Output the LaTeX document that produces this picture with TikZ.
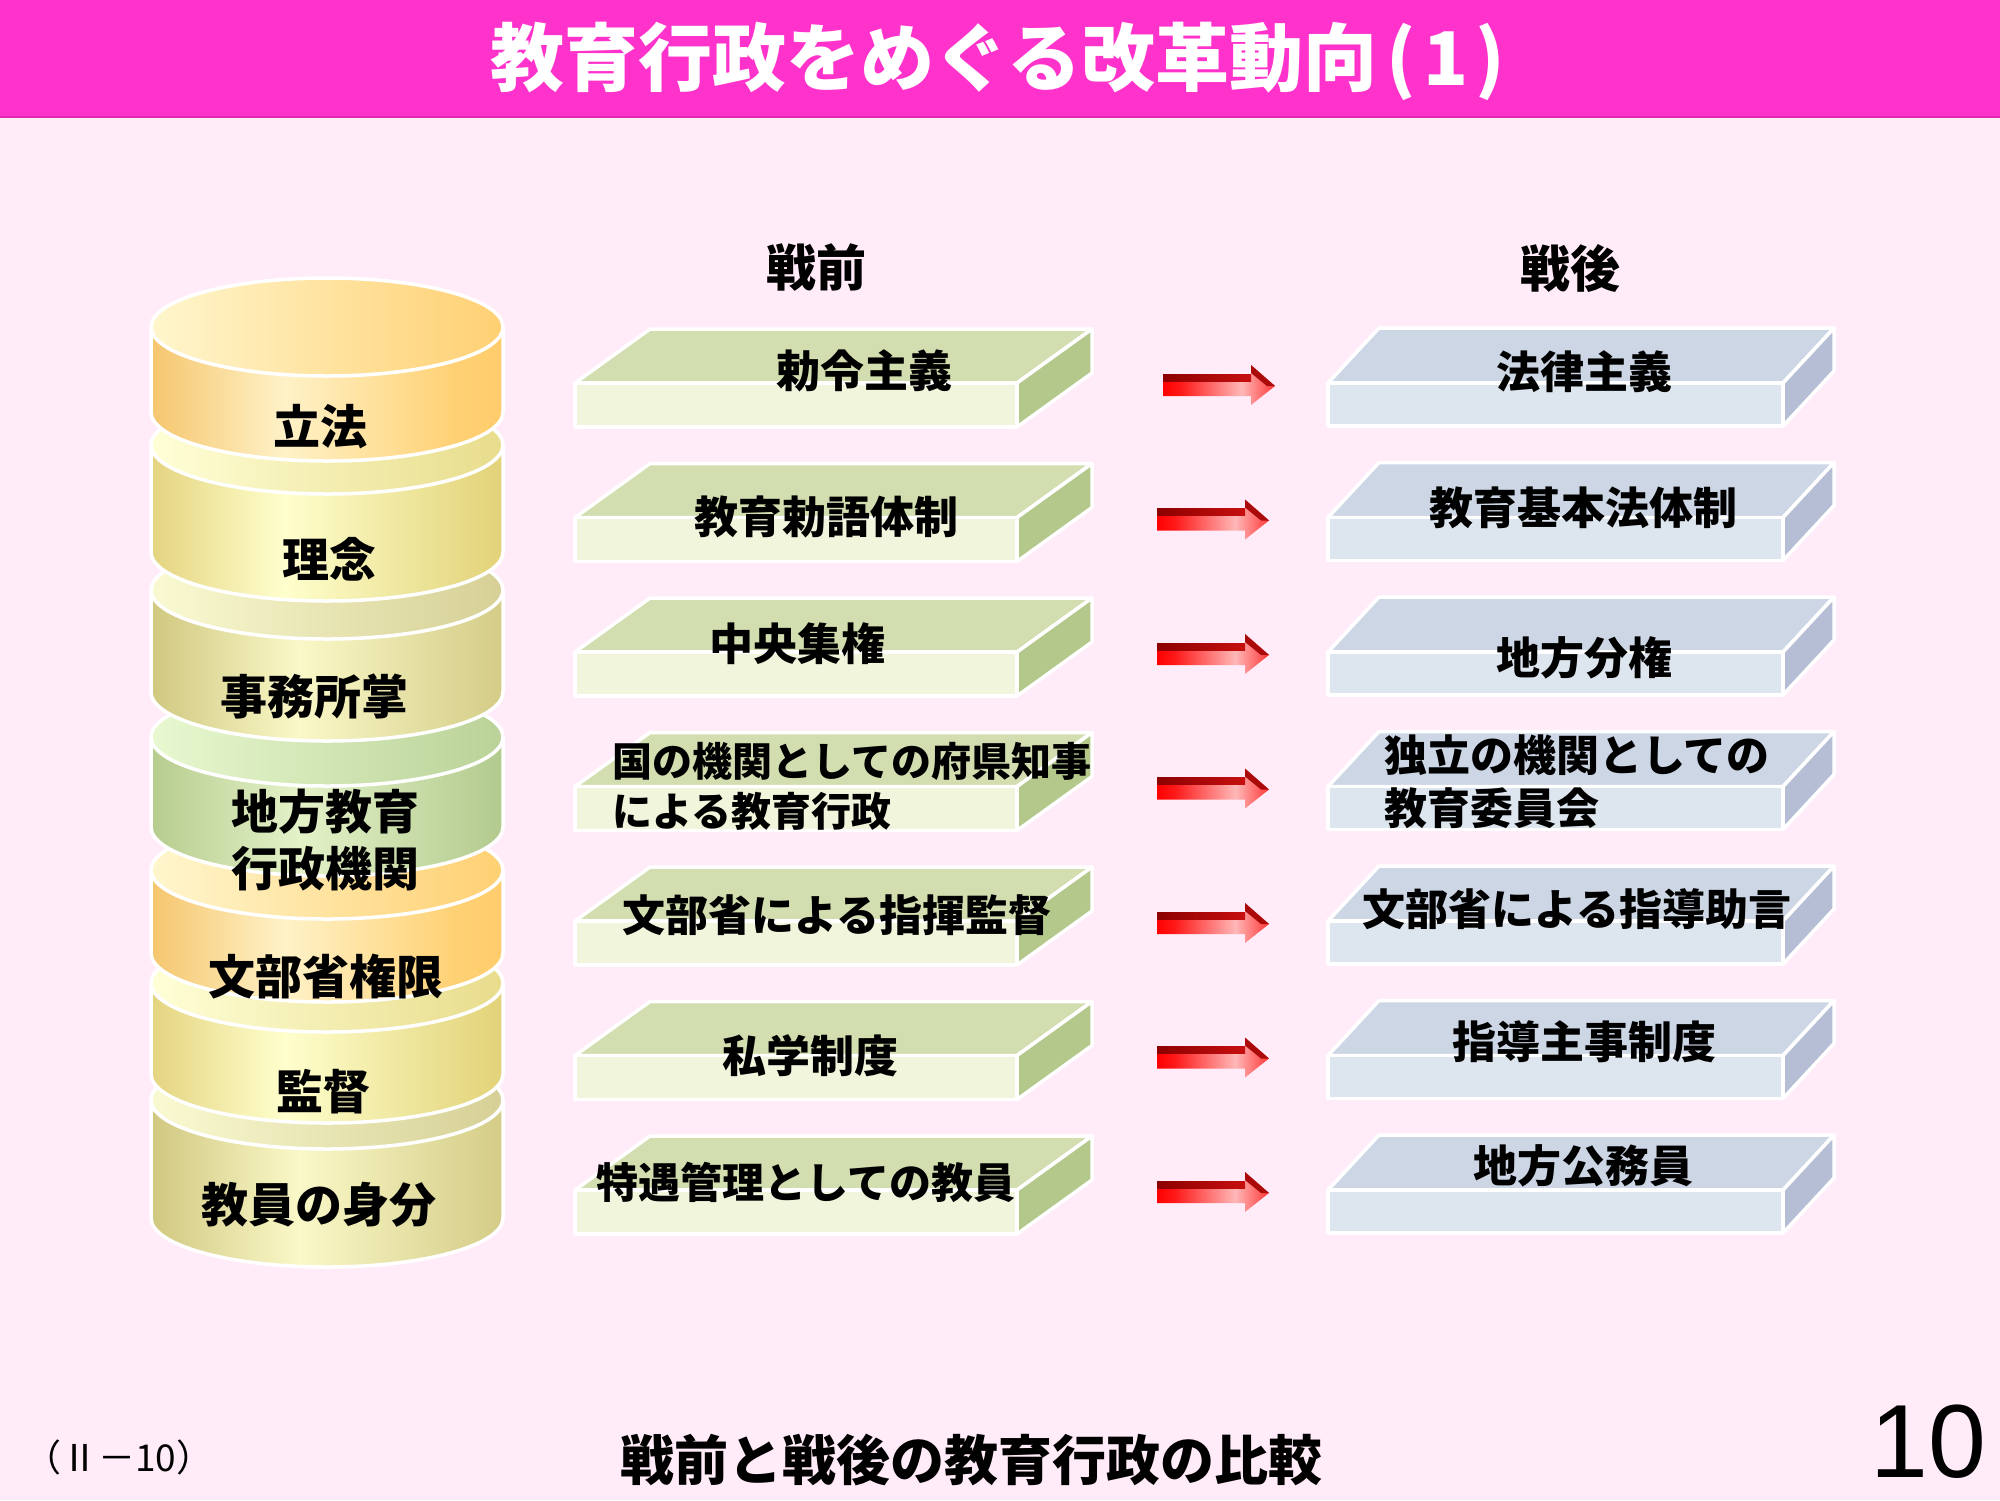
\documentclass[tikz,border=0pt]{standalone}
\usepackage{fontspec}
\setmainfont{Liberation Sans}
\newfontfamily\jp{Noto Sans CJK JP}
\definecolor{bgpink}{RGB}{255,236,248}
\definecolor{barpink}{RGB}{255,51,204}
\definecolor{barline}{RGB}{226,40,178}
\definecolor{gTop}{RGB}{210,222,176}
\definecolor{gFront}{RGB}{240,245,220}
\definecolor{gSide}{RGB}{180,200,140}
\definecolor{bTop}{RGB}{205,214,229}
\definecolor{bFront}{RGB}{221,229,238}
\definecolor{bSide}{RGB}{181,190,213}
\definecolor{arrowdark}{RGB}{170,10,10}
% cylinder shadings (path box maps to 25bp..75bp)
\pgfdeclarehorizontalshading{orBody}{100bp}{rgb(0bp)=(0.961,0.776,0.431); rgb(25bp)=(0.961,0.776,0.431); rgb(44bp)=(1,0.949,0.784); rgb(68bp)=(1,0.82,0.46); rgb(75bp)=(1,0.80,0.42); rgb(100bp)=(1,0.80,0.42)}
\pgfdeclarehorizontalshading{orTop}{100bp}{rgb(0bp)=(1,0.965,0.804); rgb(25bp)=(1,0.965,0.804); rgb(75bp)=(1,0.816,0.451); rgb(100bp)=(1,0.816,0.451)}
\pgfdeclarehorizontalshading{yeBody}{100bp}{rgb(0bp)=(0.894,0.831,0.502); rgb(25bp)=(0.894,0.831,0.502); rgb(44bp)=(1,1,0.804); rgb(75bp)=(0.886,0.824,0.471); rgb(100bp)=(0.886,0.824,0.471)}
\pgfdeclarehorizontalshading{yeTop}{100bp}{rgb(0bp)=(1,1,0.843); rgb(25bp)=(1,1,0.843); rgb(75bp)=(0.91,0.863,0.549); rgb(100bp)=(0.91,0.863,0.549)}
\pgfdeclarehorizontalshading{olBody}{100bp}{rgb(0bp)=(0.816,0.784,0.502); rgb(25bp)=(0.816,0.784,0.502); rgb(46bp)=(0.98,0.973,0.784); rgb(75bp)=(0.831,0.8,0.529); rgb(100bp)=(0.831,0.8,0.529)}
\pgfdeclarehorizontalshading{olTop}{100bp}{rgb(0bp)=(0.98,0.98,0.824); rgb(25bp)=(0.98,0.98,0.824); rgb(75bp)=(0.839,0.816,0.588); rgb(100bp)=(0.839,0.816,0.588)}
\pgfdeclarehorizontalshading{grBody}{100bp}{rgb(0bp)=(0.714,0.8,0.557); rgb(25bp)=(0.714,0.8,0.557); rgb(46bp)=(0.894,0.949,0.784); rgb(75bp)=(0.698,0.792,0.557); rgb(100bp)=(0.698,0.792,0.557)}
\pgfdeclarehorizontalshading{grTop}{100bp}{rgb(0bp)=(0.91,0.973,0.816); rgb(25bp)=(0.91,0.973,0.816); rgb(75bp)=(0.729,0.824,0.596); rgb(100bp)=(0.729,0.824,0.596)}
% arrow shadings
\pgfdeclarehorizontalshading{arrowsh}{100bp}{rgb(0bp)=(1,0,0); rgb(25bp)=(1,0,0); rgb(33bp)=(1,0.1,0.1); rgb(60bp)=(1,0.72,0.72); rgb(75bp)=(1,0.22,0.22); rgb(100bp)=(1,0.22,0.22)}
\pgfdeclarehorizontalshading{arrowtop}{100bp}{rgb(0bp)=(0.55,0,0); rgb(25bp)=(0.55,0,0); rgb(75bp)=(0.78,0.06,0.06); rgb(100bp)=(0.78,0.06,0.06)}

\tikzset{
  rim/.style={draw=white, line width=3.5pt, line join=round},
  cyltext/.style={font=\jp\bfseries\fontsize{47}{57}\selectfont, inner sep=0pt, align=center},
  rowtext/.style={font=\jp\bfseries\fontsize{44}{50}\selectfont, inner sep=0pt},
  headtext/.style={font=\jp\bfseries\fontsize{50}{56}\selectfont, inner sep=0pt},
}

\newcommand\drawcyl[4]{%
  \shadedraw[rim, shading=#3] (151,#1) -- (151,#2) arc[start angle=180, end angle=0, x radius=176, y radius=49] -- (503,#1) -- cycle;
  \shadedraw[rim, shading=#4] (327,#1) ellipse [x radius=176, y radius=49];
}
\newcommand\gslab[1]{%
  \filldraw[rim, fill=gTop] (575,#1) -- (650,#1-54) -- (1092,#1-54) -- (1017,#1) -- cycle;
  \filldraw[rim, fill=gSide] (1017,#1) -- (1092,#1-54) -- (1092,#1-10) -- (1017,#1+44) -- cycle;
  \filldraw[rim, fill=gFront] (575,#1) rectangle (1017,#1+44);
}
\newcommand\bslab[1]{%
  \filldraw[rim, fill=bTop] (1328,#1) -- (1379,#1-55) -- (1834,#1-55) -- (1783,#1) -- cycle;
  \filldraw[rim, fill=bSide] (1783,#1) -- (1834,#1-55) -- (1834,#1-12) -- (1783,#1+43) -- cycle;
  \filldraw[rim, fill=bFront] (1328,#1) rectangle (1783,#1+43);
}
\newcommand\redarrow[2]{%
  \shade[shading=arrowsh] (#1,#2-11) -- (#1+88,#2-11) -- (#1+88,#2-20) -- (#1+112,#2+1) -- (#1+88,#2+20) -- (#1+88,#2+11) -- (#1,#2+11) -- cycle;
  \shade[shading=arrowtop] (#1,#2-11) -- (#1+88,#2-11) -- (#1+88,#2-4) -- (#1,#2-4) -- cycle;
  \fill[arrowdark] (#1+88,#2-20) -- (#1+112,#2+1) -- (#1+104,#2+1) -- (#1+88,#2-12) -- cycle;
}

\begin{document}
\begin{tikzpicture}[x=1pt, y=-1pt]
\useasboundingbox (0,0) rectangle (2000,1500);
\fill[bgpink] (0,0) rectangle (2000,1500);
\fill[barpink] (0,0) rectangle (2000,118);
\draw[barline, line width=2pt] (0,117) -- (2000,117);
\node[font=\jp\bfseries\fontsize{74}{80}\selectfont, text=white, inner sep=0pt] (title) at (998,61) {教育行政をめぐる改革動向\kern0.12em(\kern0.1em1\kern0.1em)};

% cylinder stack (bottom first)
\drawcyl{1100}{1218}{olBody}{olTop}
\drawcyl{983}{1074}{yeBody}{yeTop}
\drawcyl{870}{953}{orBody}{orTop}
\drawcyl{737}{827}{grBody}{grTop}
\drawcyl{590}{692}{olBody}{olTop}
\drawcyl{445}{552}{yeBody}{yeTop}
\drawcyl{327}{412}{orBody}{orTop}

\node[cyltext] (c1) at (320,427) {立法};
\node[cyltext] (c2) at (329,559) {理念};
\node[cyltext] (c3) at (314,696) {事務所掌};
\node[cyltext] (c4) at (325,840) {地方教育\\行政機関};
\node[cyltext] (c5) at (326,977) {文部省権限};
\node[cyltext] (c6) at (323,1092) {監督};
\node[cyltext] (c7) at (319,1205) {教員の身分};

% headers
\node[headtext] (pre) at (816,268) {戦前};
\node[headtext] (post) at (1570,268) {戦後};

% slabs and arrows
\foreach \i in {0,...,6}{
  \pgfmathsetmacro\yf{383+134.5*\i}
  \pgfmathsetmacro\xs{\i==0 ? 1163 : 1157}
  \gslab{\yf}
  \bslab{\yf}
  \redarrow{\xs}{\yf+2}
}

% left column texts
\node[rowtext] (l1) at (864,371) {勅令主義};
\node[rowtext] (l2) at (826,517) {教育勅語体制};
\node[rowtext] (l3) at (797,644) {中央集権};
\node[rowtext, font=\jp\bfseries\fontsize{40}{50}\selectfont, align=left, anchor=west] (l4) at (612,786) {国の機関としての府県知事\\による教育行政};
\node[rowtext, font=\jp\bfseries\fontsize{43}{50}\selectfont] (l5) at (837,915) {文部省による指揮監督};
\node[rowtext] (l6) at (810,1056) {私学制度};
\node[rowtext, font=\jp\bfseries\fontsize{42}{50}\selectfont] (l7) at (806,1182) {特遇管理としての教員};

% right column texts
\node[rowtext] (r1) at (1584,372) {法律主義};
\node[rowtext] (r2) at (1583,508) {教育基本法体制};
\node[rowtext] (r3) at (1584,658) {地方分権};
\node[rowtext, font=\jp\bfseries\fontsize{43}{53}\selectfont, align=left, anchor=west] (r4) at (1384,782) {独立の機関としての\\教育委員会};
\node[rowtext, font=\jp\bfseries\fontsize{43}{50}\selectfont] (r5) at (1577,909) {文部省による指導助言};
\node[rowtext] (r6) at (1584,1042) {指導主事制度};
\node[rowtext] (r7) at (1583,1166) {地方公務員};

% footer
\node[font=\jp\fontsize{37}{40}\selectfont, inner sep=0pt, anchor=west] (code) at (24,1457) {（Ⅱ－10）};
\node[font=\jp\bfseries\fontsize{54}{60}\selectfont, inner sep=0pt] (caption) at (971,1460) {戦前と戦後の教育行政の比較};
\node[font=\fontsize{104}{110}\selectfont, inner sep=0pt] (pageno) at (1928,1442) {10};
\end{tikzpicture}
\end{document}
